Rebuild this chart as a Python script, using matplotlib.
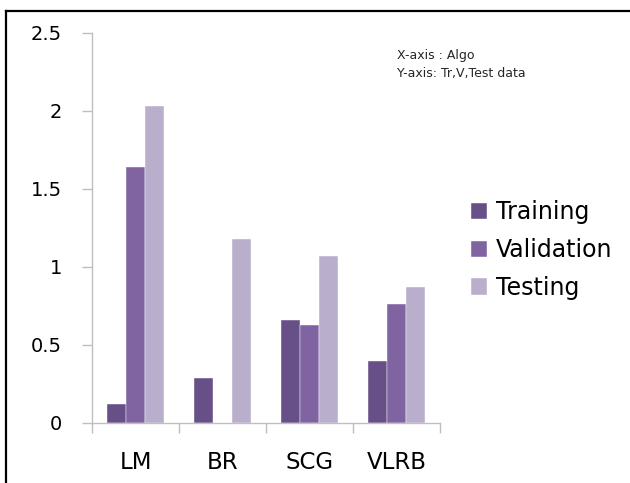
import matplotlib.pyplot as plt
import numpy as np
from matplotlib.lines import Line2D

algos = ["LM", "BR", "SCG", "VLRB"]
series = ["Training", "Validation", "Testing"]
training = [0.12, 0.29, 0.66, 0.40]
validation = [1.64, 0.0, 0.63, 0.76]
testing = [2.03, 1.18, 1.07, 0.87]
yticks = [0, 0.5, 1, 1.5, 2, 2.5]
ytick_labels = ["0", "0.5", "1", "1.5", "2", "2.5"]
colors = ["#674f88", "#8064a2", "#b9afcc"]

plt.rcParams['font.family'] = ['DejaVu Sans']

fig = plt.figure(figsize=(6.3, 4.83), dpi=100)
ax = fig.add_axes([92 / 630, 1 - 423 / 483, 348 / 630, 390 / 483])

x = np.arange(len(algos))
w = 0.22
for i, (vals, name) in enumerate(zip([training, validation, testing], series)):
    ax.bar(x + (i - 1) * w, vals, width=w, color=colors[i], label=name,
           edgecolor='white', linewidth=0.3)

ax.set_xlim(-0.5, len(algos) - 0.5)
ax.set_ylim(0, 2.5)
ax.set_yticks(yticks)
ax.set_yticklabels(ytick_labels)

# category boundaries get the tick marks, names sit at the centers
ax.set_xticks(np.arange(len(algos) + 1) - 0.5)
ax.set_xticklabels([])
ax.set_xticks(x, minor=True)
ax.set_xticklabels(algos, minor=True)
ax.tick_params(axis='x', which='major', direction='out', length=7, width=1, color='#bfbfbf')
ax.tick_params(axis='x', which='minor', length=0, pad=20, labelsize=16.5)
ax.tick_params(axis='y', direction='out', length=7, width=1, color='#bfbfbf', pad=14.5, labelsize=14)

for side in ['top', 'right']:
    ax.spines[side].set_visible(False)
for side in ['left', 'bottom']:
    ax.spines[side].set_color('#bfbfbf')
    ax.spines[side].set_linewidth(1)

fig.text(397 / 630, 1 - 55 / 483, "X-axis : Algo", fontsize=9, va='center', color='#262626')
fig.text(397 / 630, 1 - 73 / 483, "Y-axis: Tr,V,Test data", fontsize=9, va='center', color='#262626')

fig.legend(loc='center left', bbox_to_anchor=(471 / 630, 1 - 250 / 483), frameon=False,
           fontsize=17, handlelength=0.68, handleheight=0.68, handletextpad=0.38,
           labelspacing=0.58, borderpad=0, borderaxespad=0)

# frame lines along the left and top edges
fig.add_artist(Line2D([6 / 630, 6 / 630], [0, 1 - 10.5 / 483], transform=fig.transFigure,
                      color='black', linewidth=1.6))
fig.add_artist(Line2D([6 / 630, 1], [1 - 10.5 / 483, 1 - 10.5 / 483], transform=fig.transFigure,
                      color='black', linewidth=1.6))

fig.savefig("out.png", dpi=100)
